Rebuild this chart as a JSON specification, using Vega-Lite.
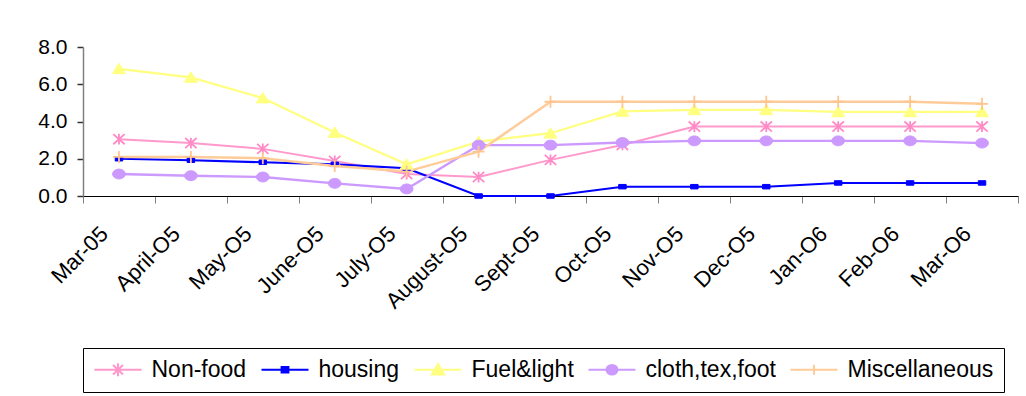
{
  "$schema": "https://vega.github.io/schema/vega-lite/v6.json",
  "width": 935,
  "height": 149,
  "autosize": "none",
  "padding": {"left": 83, "top": 47, "right": 8, "bottom": 200},
  "background": "white",
  "config": {
    "view": {"stroke": null},
    "font": "Liberation Sans",
    "axis": {"labelFont": "Liberation Sans", "labelColor": "#000", "grid": false, "title": null}
  },
  "data": {
    "values": [
      {"month": "Mar-05", "series": "Non-food", "value": 3.05},
      {"month": "April-O5", "series": "Non-food", "value": 2.84},
      {"month": "May-O5", "series": "Non-food", "value": 2.53},
      {"month": "June-O5", "series": "Non-food", "value": 1.88},
      {"month": "July-O5", "series": "Non-food", "value": 1.18},
      {"month": "August-O5", "series": "Non-food", "value": 1.02},
      {"month": "Sept-O5", "series": "Non-food", "value": 1.94},
      {"month": "Oct-O5", "series": "Non-food", "value": 2.74},
      {"month": "Nov-O5", "series": "Non-food", "value": 3.73},
      {"month": "Dec-O5", "series": "Non-food", "value": 3.73},
      {"month": "Jan-O6", "series": "Non-food", "value": 3.73},
      {"month": "Feb-O6", "series": "Non-food", "value": 3.73},
      {"month": "Mar-O6", "series": "Non-food", "value": 3.73},
      {"month": "Mar-05", "series": "housing", "value": 2.0},
      {"month": "April-O5", "series": "housing", "value": 1.92},
      {"month": "May-O5", "series": "housing", "value": 1.81},
      {"month": "June-O5", "series": "housing", "value": 1.7},
      {"month": "July-O5", "series": "housing", "value": 1.49},
      {"month": "August-O5", "series": "housing", "value": 0.0},
      {"month": "Sept-O5", "series": "housing", "value": 0.0},
      {"month": "Oct-O5", "series": "housing", "value": 0.5},
      {"month": "Nov-O5", "series": "housing", "value": 0.5},
      {"month": "Dec-O5", "series": "housing", "value": 0.5},
      {"month": "Jan-O6", "series": "housing", "value": 0.7},
      {"month": "Feb-O6", "series": "housing", "value": 0.7},
      {"month": "Mar-O6", "series": "housing", "value": 0.7},
      {"month": "Mar-05", "series": "Fuel&light", "value": 6.83},
      {"month": "April-O5", "series": "Fuel&light", "value": 6.37},
      {"month": "May-O5", "series": "Fuel&light", "value": 5.26},
      {"month": "June-O5", "series": "Fuel&light", "value": 3.41},
      {"month": "July-O5", "series": "Fuel&light", "value": 1.7},
      {"month": "August-O5", "series": "Fuel&light", "value": 2.92},
      {"month": "Sept-O5", "series": "Fuel&light", "value": 3.37},
      {"month": "Oct-O5", "series": "Fuel&light", "value": 4.54},
      {"month": "Nov-O5", "series": "Fuel&light", "value": 4.63},
      {"month": "Dec-O5", "series": "Fuel&light", "value": 4.63},
      {"month": "Jan-O6", "series": "Fuel&light", "value": 4.52},
      {"month": "Feb-O6", "series": "Fuel&light", "value": 4.52},
      {"month": "Mar-O6", "series": "Fuel&light", "value": 4.52},
      {"month": "Mar-05", "series": "cloth,tex,foot", "value": 1.18},
      {"month": "April-O5", "series": "cloth,tex,foot", "value": 1.09},
      {"month": "May-O5", "series": "cloth,tex,foot", "value": 1.02},
      {"month": "June-O5", "series": "cloth,tex,foot", "value": 0.68},
      {"month": "July-O5", "series": "cloth,tex,foot", "value": 0.38},
      {"month": "August-O5", "series": "cloth,tex,foot", "value": 2.73},
      {"month": "Sept-O5", "series": "cloth,tex,foot", "value": 2.73},
      {"month": "Oct-O5", "series": "cloth,tex,foot", "value": 2.87},
      {"month": "Nov-O5", "series": "cloth,tex,foot", "value": 2.96},
      {"month": "Dec-O5", "series": "cloth,tex,foot", "value": 2.96},
      {"month": "Jan-O6", "series": "cloth,tex,foot", "value": 2.96},
      {"month": "Feb-O6", "series": "cloth,tex,foot", "value": 2.96},
      {"month": "Mar-O6", "series": "cloth,tex,foot", "value": 2.84},
      {"month": "Mar-05", "series": "Miscellaneous", "value": 2.1},
      {"month": "April-O5", "series": "Miscellaneous", "value": 2.1},
      {"month": "May-O5", "series": "Miscellaneous", "value": 2.03},
      {"month": "June-O5", "series": "Miscellaneous", "value": 1.61},
      {"month": "July-O5", "series": "Miscellaneous", "value": 1.31},
      {"month": "August-O5", "series": "Miscellaneous", "value": 2.38},
      {"month": "Sept-O5", "series": "Miscellaneous", "value": 5.06},
      {"month": "Oct-O5", "series": "Miscellaneous", "value": 5.06},
      {"month": "Nov-O5", "series": "Miscellaneous", "value": 5.06},
      {"month": "Dec-O5", "series": "Miscellaneous", "value": 5.06},
      {"month": "Jan-O6", "series": "Miscellaneous", "value": 5.06},
      {"month": "Feb-O6", "series": "Miscellaneous", "value": 5.06},
      {"month": "Mar-O6", "series": "Miscellaneous", "value": 4.95}
    ]
  },
  "encoding": {
    "x": {
      "field": "month",
      "type": "ordinal",
      "sort": ["Mar-05", "April-O5", "May-O5", "June-O5", "July-O5", "August-O5", "Sept-O5", "Oct-O5", "Nov-O5", "Dec-O5", "Jan-O6", "Feb-O6", "Mar-O6"],
      "scale": {"type": "band", "paddingInner": 0, "paddingOuter": 0},
      "axis": {
        "labelAngle": -45,
        "labelAlign": "right",
        "labelBaseline": "middle",
        "labelFontSize": 22,
        "labelPadding": 27,
        "labelOffset": -15,
        "tickBand": "extent",
        "tickSize": 7,
        "tickColor": "#808080",
        "domain": true,
        "domainColor": "#000",
        "labelOverlap": false
      }
    },
    "y": {
      "field": "value",
      "type": "quantitative",
      "scale": {"domain": [0, 8], "nice": false, "zero": true},
      "axis": {
        "values": [0, 2, 4, 6, 8],
        "format": ".1f",
        "labelFontSize": 21,
        "labelPadding": 10,
        "domain": true,
        "ticks": true,
        "tickSize": 6,
        "tickColor": "#333",
        "tickWidth": 1.5,
        "domainColor": "#808080",
        "domainWidth": 1.5
      }
    }
  },
  "layer": [
    {
      "mark": {"type": "line", "bandPosition": 0.5},
      "encoding": {
        "color": {
          "field": "series",
          "type": "nominal",
          "scale": {
            "domain": ["Non-food", "housing", "Fuel&light", "cloth,tex,foot", "Miscellaneous"],
            "range": ["#FF99CC", "#0000FF", "#FFFF80", "#CC99FF", "#FFCC99"]
          },
          "legend": null
        },
        "strokeWidth": {
          "field": "series",
          "type": "nominal",
          "scale": {
            "domain": ["Non-food", "housing", "Fuel&light", "cloth,tex,foot", "Miscellaneous"],
            "range": [2, 2.5, 2, 2, 2]
          },
          "legend": null
        }
      }
    },
    {
      "transform": [{"filter": "datum.series === 'Non-food'"}],
      "mark": {"type": "point", "bandPosition": 0.5, "opacity": 1, "filled": false, "stroke": "#FF8AC6", "strokeWidth": 1.8, "size": 160,
        "shape": "M0,-0.85V0.85M-0.9,-0.8L0.9,0.8M-0.9,0.8L0.9,-0.8"}
    },
    {
      "transform": [{"filter": "datum.series === 'housing'"}],
      "mark": {"type": "point", "bandPosition": 0.5, "opacity": 1, "filled": true, "fill": "#0000FF", "stroke": "#0000FF", "strokeWidth": 1, "size": 56,
        "shape": "M-1,-0.6H1V0.6H-1Z"}
    },
    {
      "transform": [{"filter": "datum.series === 'Fuel&light'"}],
      "mark": {"type": "point", "bandPosition": 0.5, "opacity": 1, "filled": true, "fill": "#FFFF80", "stroke": "#FFFF80", "strokeWidth": 1, "size": 169,
        "shape": "M0,-0.85L1,0.75L-1,0.75Z"}
    },
    {
      "transform": [{"filter": "datum.series === 'cloth,tex,foot'"}],
      "mark": {"type": "point", "bandPosition": 0.5, "opacity": 1, "filled": true, "fill": "#CC99FF", "stroke": "#CC99FF", "strokeWidth": 1, "size": 160,
        "shape": "M1,0A1,0.78 0 1,1 -1,0A1,0.78 0 1,1 1,0Z"}
    },
    {
      "transform": [{"filter": "datum.series === 'Miscellaneous'"}],
      "mark": {"type": "point", "bandPosition": 0.5, "opacity": 1, "filled": false, "stroke": "#FFC58F", "strokeWidth": 1.8, "size": 144,
        "shape": "M-1,0H1M0,-1V1"}
    },
    {
      "mark": {"type": "point", "filled": true, "opacity": 0, "strokeWidth": 2, "bandPosition": 0.5},
      "encoding": {
        "color": {
          "field": "series",
          "type": "nominal",
          "title": null,
          "scale": {
            "domain": ["Non-food", "housing", "Fuel&light", "cloth,tex,foot", "Miscellaneous"],
            "range": ["#FF99CC", "#0000FF", "#FFFF80", "#CC99FF", "#FFCC99"]
          }
        },
        "stroke": {
          "field": "series",
          "type": "nominal",
          "title": null,
          "scale": {
            "domain": ["Non-food", "housing", "Fuel&light", "cloth,tex,foot", "Miscellaneous"],
            "range": ["#FF99CC", "#0000FF", "#FFFF80", "#CC99FF", "#FFCC99"]
          }
        },
        "shape": {
          "field": "series",
          "type": "nominal",
          "title": null,
          "scale": {
            "domain": ["Non-food", "housing", "Fuel&light", "cloth,tex,foot", "Miscellaneous"],
            "range": [
              "M-2.35,0H2.35M0,-0.64V0.64M-0.5,-0.48L0.5,0.48M-0.5,0.48L0.5,-0.48",
              "M-2.35,0H2.35M-0.34,-0.27H0.34V0.27H-0.34Z",
              "M-2.35,0H2.35M0,-0.58L0.62,0.48L-0.62,0.48Z",
              "M-2.35,0H2.35M0.55,0A0.55,0.48 0 1,1 -0.55,0A0.55,0.48 0 1,1 0.55,0Z",
              "M-2.35,0H2.35M0,-0.5V0.5"
            ]
          },
          "legend": {
            "orient": "none",
            "legendX": 0,
            "legendY": 301,
            "direction": "horizontal",
            "columns": 5,
            "symbolSize": 400,
            "symbolOffset": 13.5,
            "symbolStrokeWidth": 2,
            "symbolOpacity": 1,
            "labelFont": "Liberation Sans",
            "labelFontSize": 23,
            "labelColor": "#000",
            "labelOffset": 22,
            "columnPadding": 10,
            "padding": 10,
            "strokeColor": "#000",
            "fillColor": "#fff",
            "labelLimit": 300
          }
        }
      }
    }
  ],
  "resolve": {"scale": {"shape": "independent", "color": "independent", "stroke": "independent"}}
}
